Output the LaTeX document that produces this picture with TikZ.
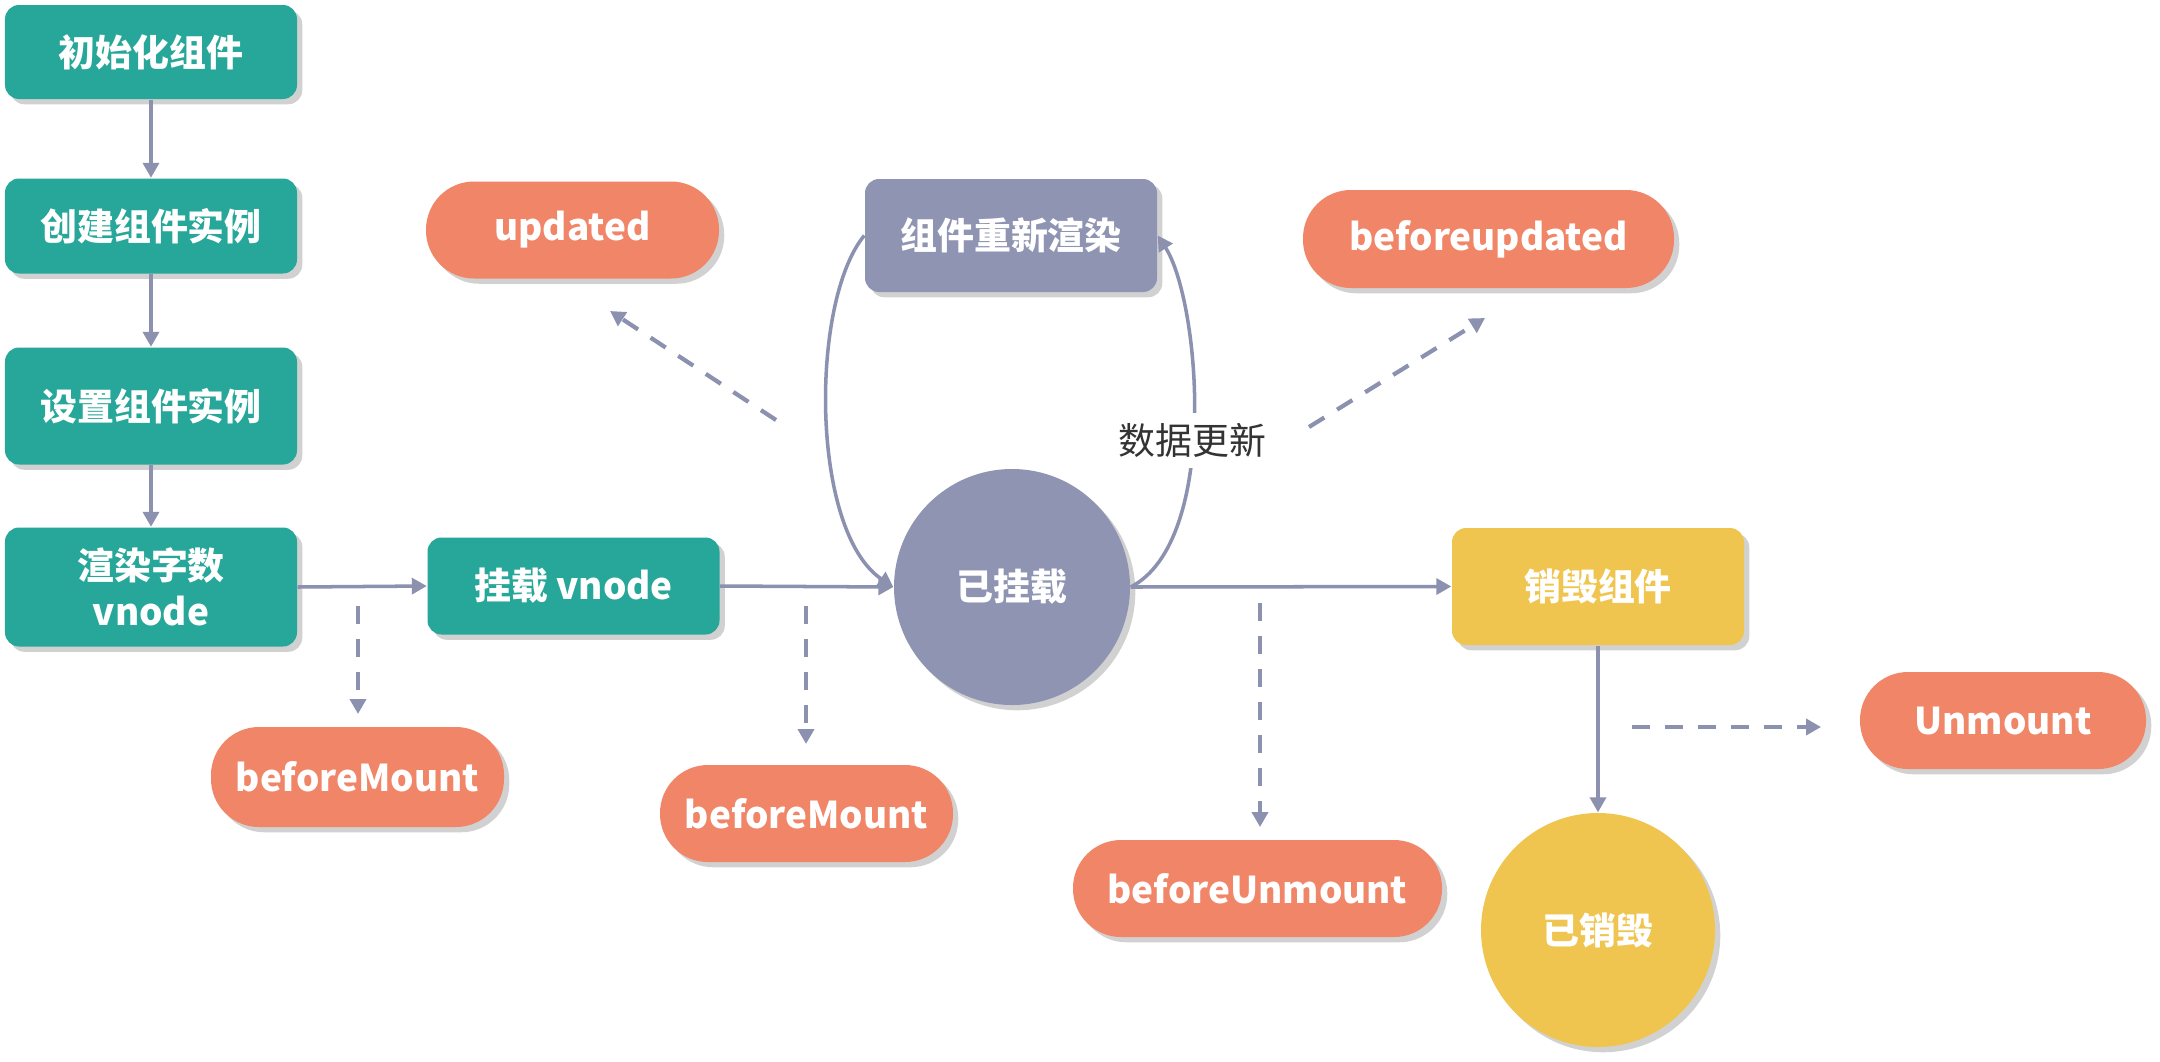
\documentclass[tikz,border=0pt]{standalone}
\usepackage{fontspec}
\setmainfont{Noto Sans CJK SC}
\usetikzlibrary{arrows.meta,shadows}

\definecolor{stepgreen}{HTML}{27A799}
\definecolor{viewgray}{HTML}{8E94B2}
\definecolor{hookred}{HTML}{F08568}
\definecolor{endyellow}{HTML}{F0C54F}
\definecolor{linegray}{HTML}{8C91B0}
\definecolor{labelgray}{HTML}{333333}

\begin{document}
\begin{tikzpicture}[
  >={Triangle[length=1.5mm,width=1.6mm]},
  font=\fontsize{10.5}{13}\selectfont\bfseries,
  box/.style={rounded corners=4pt, text=white, align=center, inner sep=2pt,
    drop shadow={shadow xshift=1.5pt, shadow yshift=-1.5pt, opacity=0.18, fill=black}},
  stepbox/.style={box, fill=stepgreen, minimum width=2.92cm},
  viewbox/.style={box, fill=viewgray, minimum width=2.92cm, minimum height=1.13cm},
  endbox/.style={box, fill=endyellow, minimum width=2.92cm, minimum height=1.17cm},
  hook/.style={box, fill=hookred, rounded corners=0.48cm, minimum width=2.93cm, minimum height=0.97cm},
  state/.style={box, circle, minimum size=2.36cm},
  line/.style={->, draw=linegray, line width=1pt},
  hookline/.style={line, dash pattern=on 1.8mm off 1.5mm, line width=1.2pt}
]
  \fill[white] (0,0) rectangle (21.6,10.61);
  \useasboundingbox (0,0) rectangle (21.6,10.61);

  % main path
  \node[stepbox, minimum height=0.94cm] (init) at (1.51,10.09) {初始化组件};
  \node[stepbox, minimum height=0.95cm] (create) at (1.51,8.35) {创建组件实例};
  \node[stepbox, minimum height=1.17cm] (setup) at (1.51,6.55) {设置组件实例};
  \node[stepbox, minimum height=1.19cm] (render) at (1.51,4.74) {渲染字数\\vnode};
  \node[stepbox, minimum height=0.97cm] (mountv) at (5.735,4.75) {挂载 vnode};
  \node[state, fill=viewgray] (mounted) at (10.12,4.74) {已挂载};
  \node[viewbox] (rerender) at (10.11,8.255) {组件重新渲染};
  \node[endbox] (destroy) at (15.98,4.745) {销毁组件};
  \node[state, fill=endyellow, minimum size=2.34cm] (destroyed) at (15.98,1.31) {已销毁};

  % hooks
  \node[hook] (updated) at (5.725,8.31) {updated};
  \node[hook, minimum width=3.71cm, minimum height=0.98cm] (beforeupdated) at (14.885,8.22) {beforeupdated};
  \node[hook, minimum height=1cm] (beforemountA) at (3.575,2.84) {beforeMount};
  \node[hook] (beforemountB) at (8.065,2.475) {beforeMount};
  \node[hook, minimum width=3.69cm] (beforeunmount) at (12.575,1.725) {beforeUnmount};
  \node[hook, minimum width=2.86cm] (unmount) at (20.03,3.405) {Unmount};

  \draw[line] (init) -- (create);
  \draw[line] (create) -- (setup);
  \draw[line] (setup) -- (render);
  \draw[line] (render.east) -- (mountv.west);
  \draw[line] (mountv.east) -- (mounted.west);
  \draw[line] (mounted.east) -- (destroy.west);
  \draw[line] (destroy) -- (destroyed);

  % update loop
  \draw[line] (rerender.west) .. controls (8.1,7.6) and (8.1,5.3) .. (mounted.west);
  \draw[line] (mounted.east) .. controls (12.2,5.2) and (12.0,7.6) .. (rerender.east)
    node[pos=0.45, fill=white, text=labelgray, font=\fontsize{10.5}{13}\selectfont, inner sep=3pt] (datachange) {数据更新};

  % hook calls
  \coordinate (bmAfrom) at (3.58,4.55);
  \coordinate (bmAto) at (3.58,3.47);
  \coordinate (bmBfrom) at (8.06,4.55);
  \coordinate (bmBto) at (8.06,3.17);
  \coordinate (buFrom) at (12.6,4.58);
  \coordinate (buTo) at (12.6,2.34);
  \coordinate (upFrom) at (7.76,6.41);
  \coordinate (upTo) at (6.10,7.50);
  \coordinate (bupFrom) at (13.09,6.34);
  \coordinate (bupTo) at (14.85,7.43);
  \coordinate (unFrom) at (16.32,3.34);
  \coordinate (unTo) at (18.21,3.34);

  \draw[hookline] (bmAfrom) -- (bmAto);
  \draw[hookline] (bmBfrom) -- (bmBto);
  \draw[hookline] (buFrom) -- (buTo);
  \draw[hookline] (upFrom) -- (upTo);
  \draw[hookline] (bupFrom) -- (bupTo);
  \draw[hookline] (unFrom) -- (unTo);
\end{tikzpicture}
\end{document}
